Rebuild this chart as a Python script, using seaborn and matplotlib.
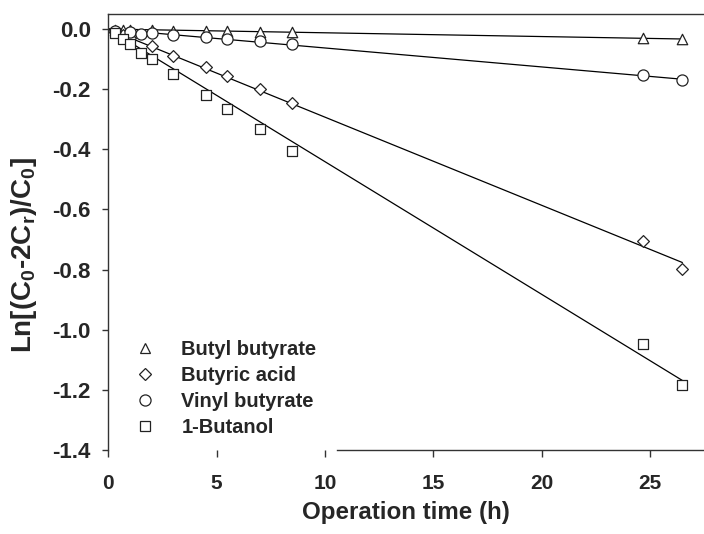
import numpy as np
import pandas as pd
import matplotlib
matplotlib.use('Agg')
import matplotlib.pyplot as plt
import seaborn as sns

# values
t_butyl = [0.33, 0.67, 1, 2, 3, 4.5, 5.5, 7, 8.5, 24.7, 26.5]
y_butyl = [-0.002, -0.002, -0.003, -0.004, -0.005, -0.007, -0.008, -0.009, -0.011, -0.031, -0.034]

t_acid = [0.33, 0.67, 1, 2, 3, 4.5, 5.5, 7, 8.5, 24.7, 26.5]
y_acid = [-0.01, -0.02, -0.03, -0.058, -0.089, -0.126, -0.155, -0.198, -0.246, -0.704, -0.798]

t_vinyl = [0.33, 1, 1.5, 2, 3, 4.5, 5.5, 7, 8.5, 24.7, 26.5]
y_vinyl = [-0.006, -0.009, -0.016, -0.013, -0.019, -0.028, -0.033, -0.041, -0.05, -0.153, -0.168]

t_butanol = [0.33, 0.67, 1, 1.5, 2, 3, 4.5, 5.5, 7, 8.5, 24.7, 26.5]
y_butanol = [-0.013, -0.033, -0.05, -0.08, -0.099, -0.149, -0.221, -0.265, -0.333, -0.404, -1.048, -1.183]

# slopes of the straight fit lines (through the origin)
slope_butyl = -0.00125
slope_acid = -0.0293
slope_vinyl = -0.0063
slope_butanol = -0.0441
fit_end = 26.5

x_ticks = [0, 5, 10, 15, 20, 25]
y_ticks = [-1.4, -1.2, -1.0, -0.8, -0.6, -0.4, -0.2, 0.0]

sns.set_style('ticks')
plt.rcParams['font.family'] = ['Liberation Sans', 'DejaVu Sans']
plt.rcParams['font.weight'] = 'bold'
plt.rcParams['axes.unicode_minus'] = False
plt.rcParams['mathtext.fontset'] = 'custom'
plt.rcParams['mathtext.rm'] = 'Liberation Sans:bold'
plt.rcParams['mathtext.bf'] = 'Liberation Sans:bold'
plt.rcParams['mathtext.default'] = 'bf'

fig = plt.figure(figsize=(7.04, 5.34), dpi=100)
ax = fig.add_axes([0.1538, 0.1573, 0.8462, 0.8165])

series = [
    ('Butyl butyrate', t_butyl, y_butyl, slope_butyl, '^', 7.5),
    ('Butyric acid', t_acid, y_acid, slope_acid, 'D', 6),
    ('Vinyl butyrate', t_vinyl, y_vinyl, slope_vinyl, 'o', 8),
    ('1-Butanol', t_butanol, y_butanol, slope_butanol, 's', 7),
]

handles = []
for name, t, y, slope, mk, ms in series:
    fit = pd.DataFrame({'t': [0, fit_end], 'y': [0, slope * fit_end]})
    sns.lineplot(data=fit, x='t', y='y', ax=ax, color='black', linewidth=0.9, zorder=2)
    df = pd.DataFrame({'t': t, 'y': y})
    sns.scatterplot(data=df, x='t', y='y', ax=ax, marker=mk, s=ms ** 2,
                    facecolor='white', edgecolor='#222222', linewidth=0.9, zorder=3)
    handles.append(plt.Line2D([], [], linestyle='none', marker=mk, markersize=ms,
                              markerfacecolor='white', markeredgecolor='#222222',
                              markeredgewidth=0.9, label=name))

ax.set_xlim(0, 27.5)
ax.set_ylim(-1.4, 0.05)
ax.set_xticks(x_ticks)
ax.set_yticks(y_ticks)
ax.set_yticklabels(['%.1f' % v for v in y_ticks])

ax.spines['right'].set_visible(False)
ax.spines['bottom'].set_bounds(10.55, 27.5)
for sp in ['left', 'top', 'bottom']:
    ax.spines[sp].set_color('#333333')
    ax.spines[sp].set_linewidth(1.0)

ax.tick_params(axis='x', direction='out', length=5, width=1, color='#333333',
               labelsize=15, pad=12)
ax.tick_params(axis='y', direction='out', length=4.5, width=1, color='#333333',
               labelsize=16, pad=8)

ax.set_xlabel('Operation time (h)', fontsize=17.4, fontweight='bold', labelpad=6)
ax.set_ylabel(r'Ln[(C$_0$-2C$_r$)/C$_0$]', fontsize=20, fontweight='bold')
ax.yaxis.set_label_coords(-0.116, 0.447)

ax.legend(handles=handles, loc='upper left', bbox_to_anchor=(0.045, 0.253),
          frameon=False, handlelength=1.0, handletextpad=1.3,
          labelspacing=0.35, borderpad=0, borderaxespad=0,
          prop={'weight': 'bold', 'size': 14.5})

plt.savefig('out.png', dpi=100)
